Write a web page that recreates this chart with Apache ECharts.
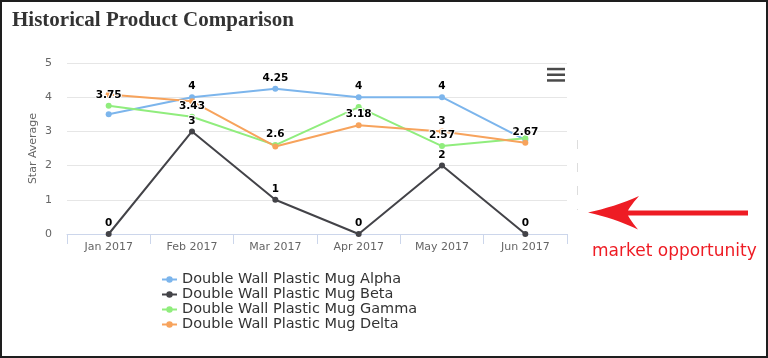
<!DOCTYPE html>
<html>
<head>
<meta charset="utf-8">
<script src="https://cdn.jsdelivr.net/npm/echarts@6/dist/echarts.min.js"></script>
<style>
html,body{margin:0;padding:0;background:#fff;}
#chart{width:768px;height:358px;}
</style>
</head>
<body>
<div id="chart"></div>
<script>
var categories = ['Jan 2017', 'Feb 2017', 'Mar 2017', 'Apr 2017', 'May 2017', 'Jun 2017'];
var seriesNames = ['Double Wall Plastic Mug Alpha', 'Double Wall Plastic Mug Beta', 'Double Wall Plastic Mug Gamma', 'Double Wall Plastic Mug Delta'];
var alphaValues = [3.5, 4, 4.25, 4, 4, 2.75];
var betaValues = [0, 3, 1, 0, 2, 0];
var gammaValues = [3.75, 3.43, 2.6, 3.71, 2.57, 2.8];
var deltaValues = [4.08, 3.88, 2.56, 3.18, 3, 2.67];
var alphaLabelShown = [0, 1, 1, 1, 1, 0];
var betaLabelShown = [1, 1, 1, 1, 1, 1];
var gammaLabelShown = [1, 1, 1, 0, 1, 0];
var deltaLabelShown = [0, 0, 0, 1, 1, 1];
var yTicks = [0, 1, 2, 3, 4, 5];
var yAxisName = 'Star Average';
var titleText = 'Historical Product Comparison';
var annotationText = 'market opportunity';

var colors = ['#7cb5ec', '#434348', '#90ed7d', '#f7a35c'];
var valueSets = [alphaValues, betaValues, gammaValues, deltaValues];
var labelSets = [alphaLabelShown, betaLabelShown, gammaLabelShown, deltaLabelShown];

function buildData(vals, shown) {
  return vals.map(function (v, i) {
    return { value: v, label: { show: !!shown[i] } };
  });
}

var series = seriesNames.map(function (name, k) {
  return {
    name: name,
    type: 'line',
    data: buildData(valueSets[k], labelSets[k]),
    symbol: 'circle',
    symbolSize: 6,
    showSymbol: true,
    lineStyle: { width: 2, color: colors[k] },
    itemStyle: { color: colors[k] },
    label: {
      show: true,
      position: 'top',
      distance: 2,
      fontFamily: 'DejaVu Sans',
      fontSize: 10.5,
      fontWeight: 'bold',
      color: '#000',
      textBorderColor: '#fff',
      textBorderWidth: 2,
      formatter: function (p) { return String(p.value); }
    },
    emphasis: { disabled: true },
    animation: false
  };
});

// arrow outline (decoration) built from quadratic curves
function quad(p0, c, p1, n) {
  var pts = [];
  for (var i = 1; i <= n; i++) {
    var t = i / n, u = 1 - t;
    pts.push([u * u * p0[0] + 2 * u * t * c[0] + t * t * p1[0], u * u * p0[1] + 2 * u * t * c[1] + t * t * p1[1]]);
  }
  return pts;
}
var arrowPts = [[588, 212.5]];
arrowPts = arrowPts.concat(quad([588, 212.5], [614, 207], [639, 196], 8));
arrowPts = arrowPts.concat(quad([639, 196], [631, 205], [628, 210.5], 6));
arrowPts.push([748, 210.5], [748, 215.5], [628, 215.5]);
arrowPts = arrowPts.concat(quad([628, 215.5], [631, 221], [638, 229.5], 6));
arrowPts = arrowPts.concat(quad([638, 229.5], [614, 218], [588, 212.5], 8));

var chart = echarts.init(document.getElementById('chart'), null, { renderer: 'canvas' });
chart.setOption({
  animation: false,
  color: colors,
  title: {
    text: titleText,
    left: 12,
    top: 10,
    padding: 0,
    textStyle: { fontFamily: 'Liberation Serif', fontWeight: 'bold', fontSize: 21, color: '#333' }
  },
  grid: { left: 67, top: 63, width: 500, height: 171, containLabel: false },
  xAxis: {
    type: 'category',
    data: categories,
    boundaryGap: true,
    axisLine: { show: true, lineStyle: { color: '#ccd6eb', width: 1 } },
    axisTick: { show: true, length: 10, lineStyle: { color: '#ccd6eb' } },
    axisLabel: { color: '#666', fontFamily: 'DejaVu Sans', fontSize: 11, margin: 8 },
    splitLine: { show: false }
  },
  yAxis: {
    type: 'value',
    min: yTicks[0],
    max: yTicks[yTicks.length - 1],
    interval: 1,
    name: yAxisName,
    nameLocation: 'middle',
    nameGap: 28,
    nameMoveOverlap: false,
    nameTextStyle: { color: '#666', fontFamily: 'DejaVu Sans', fontSize: 11 },
    axisLine: { show: false },
    axisTick: { show: false },
    axisLabel: { color: '#666', fontFamily: 'DejaVu Sans', fontSize: 11, margin: 15 },
    splitLine: { lineStyle: { color: '#e6e6e6', width: 1 } }
  },
  legend: {
    orient: 'vertical',
    left: 161,
    top: 272,
    padding: 0,
    itemGap: 0,
    itemWidth: 15,
    itemHeight: 8,
    data: seriesNames,
    textStyle: { color: '#333', fontFamily: 'DejaVu Sans', fontSize: 14.5, lineHeight: 15 }
  },
  tooltip: { show: false },
  series: series,
  graphic: [
    { type: 'rect', shape: { x: 1, y: 1, width: 766, height: 356 }, style: { fill: 'none', stroke: '#1e1e1e', lineWidth: 2 }, silent: true, z: 100 },
    { type: 'rect', shape: { x: 547, y: 67.8, width: 18, height: 2.5 }, style: { fill: '#4a4a4a' }, silent: true },
    { type: 'rect', shape: { x: 547, y: 73.5, width: 18, height: 2.5 }, style: { fill: '#4a4a4a' }, silent: true },
    { type: 'rect', shape: { x: 547, y: 79.2, width: 18, height: 2.5 }, style: { fill: '#4a4a4a' }, silent: true },
    { type: 'line', shape: { x1: 577.5, y1: 140, x2: 577.5, y2: 210 }, style: { stroke: '#dddddd', lineWidth: 1, lineDash: [9, 14] }, silent: true },
    { type: 'polygon', shape: { points: arrowPts }, style: { fill: '#ee1c24' }, silent: true },
    { type: 'text', x: 592, y: 252, style: { text: annotationText, fill: '#ee1c24', font: '17px "DejaVu Sans"', textVerticalAlign: 'middle' }, silent: true }
  ]
});
</script>
</body>
</html>
